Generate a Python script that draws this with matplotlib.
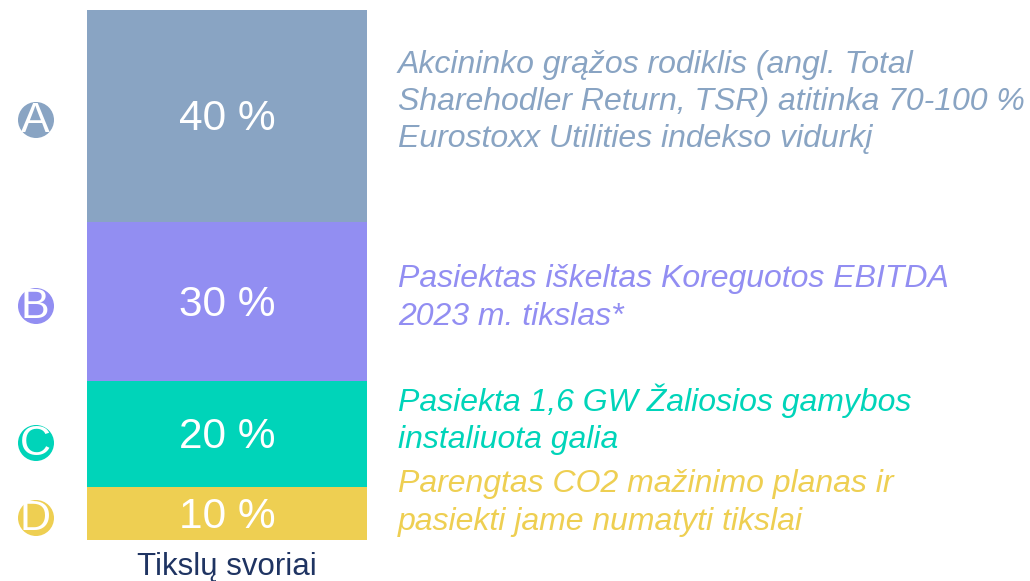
import matplotlib
matplotlib.use('Agg')
import matplotlib.pyplot as plt
from matplotlib.patches import Circle
import numpy as np

plt.rcParams['font.family'] = ['Liberation Sans', 'DejaVu Sans']

# ================== 数据 ==================
letters = ['D', 'C', 'B', 'A']
weights = [10, 20, 30, 40]
colors = ['#eecf52', '#00d4b9', '#928ef2', '#89a4c3']
descriptions = [
    'Parengtas CO2 mažinimo planas ir\npasiekti jame numatyti tikslai',
    'Pasiekta 1,6 GW Žaliosios gamybos\ninstaliuota galia',
    'Pasiektas iškeltas Koreguotos EBITDA\n2023 m. tikslas*',
    'Akcininko grąžos rodiklis (angl. Total\nSharehodler Return, TSR) atitinka 70-100 %\nEurostoxx Utilities indekso vidurkį',
]
bar_label = 'Tikslų svoriai'

# 版面位置（像素）
W, H = 1030, 581
desc_y = [503, 419, 298, 102]
circle_y = [518, 443, 306, 120]

fig = plt.figure(figsize=(W / 100, H / 100), dpi=100)

# ================== 堆叠柱 ==================
ax = fig.add_axes([87 / W, (H - 540) / H, 280 / W, 530 / H])
bottoms = np.concatenate([[0], np.cumsum(weights)[:-1]])
ax.bar(0, weights, bottom=bottoms, width=1.0, color=colors, linewidth=0)
ax.set_xlim(-0.5, 0.5)
ax.set_ylim(0, sum(weights))
ax.axis('off')
for b, w in zip(bottoms, weights):
    ax.text(0, b + w / 2 + 0.2, f'{w} %', color='white', fontsize=30.5,
            ha='center', va='center_baseline')
ax.text(0, -2.2, bar_label, color='#1f3462', fontsize=22.5,
        ha='center', va='top', clip_on=False)

# ================== 覆盖层：圆圈字母和说明 ==================
ov = fig.add_axes([0, 0, 1, 1])
ov.set_xlim(0, W)
ov.set_ylim(H, 0)
ov.axis('off')
for letter, c, cy, dy, desc in zip(letters, colors, circle_y, desc_y, descriptions):
    ov.add_patch(Circle((36, cy), 18, color=c, linewidth=0))
    ov.text(35, cy + 1, letter, color='white', fontsize=31,
            ha='center', va='center', clip_on=True)
    ov.text(398, dy, desc, color=c, fontsize=23, style='italic',
            ha='left', va='center', linespacing=1.31)

fig.savefig('out.png', dpi=100)
